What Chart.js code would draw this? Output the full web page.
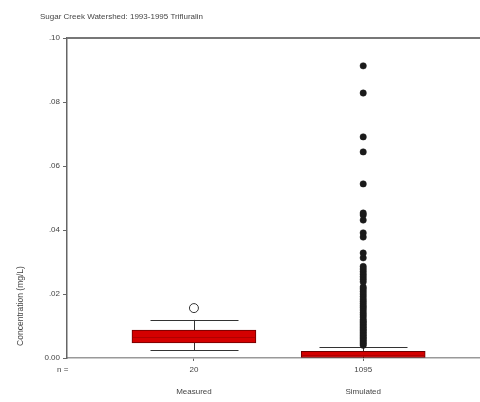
<!DOCTYPE html>
<html>
<head>
<meta charset="utf-8">
<script src="https://cdn.jsdelivr.net/npm/chart.js@4.4.1/dist/chart.umd.min.js"></script>
<style>
html,body{margin:0;padding:0;background:#fff;}
#wrap{width:480px;height:402px;position:relative;}
</style>
</head>
<body>
<div id="wrap"><canvas id="c" width="480" height="402"></canvas></div>
<script>
// ---- data ----
const chartTitle = "Sugar Creek Watershed: 1993-1995 Trifluralin";
const yAxisTitle = "Concentration (mg/L)";
const categories = ["Measured", "Simulated"];
const counts = ["20", "1095"];
const yTickValues = [0, 0.02, 0.04, 0.06, 0.08, 0.10];
const yTickLabels = ["0.00", ".02", ".04", ".06", ".08", ".10"];
const whiskerLow = [0.0025, 0.0000];
const boxQ1 = [0.0047, 0.0000];
const boxMedian = [0.0066, 0.0008];
const boxQ3 = [0.0087, 0.0021];
const whiskerHigh = [0.0119, 0.0035];
const measuredOutliers = [0.0156];
const simulatedOutliers = [
  0.0040, 0.0045, 0.0050, 0.0055, 0.0060, 0.0065, 0.0070, 0.0075, 0.0080, 0.0085,
  0.0090, 0.0095, 0.0100, 0.0105, 0.0110, 0.0115, 0.0120, 0.0128, 0.0135, 0.0142,
  0.0150, 0.0157, 0.0163, 0.0170, 0.0177, 0.0184, 0.0192, 0.0200, 0.0208, 0.0216,
  0.0222, 0.0238, 0.0246, 0.0254, 0.0262, 0.0270, 0.0278, 0.0286,
  0.0313, 0.0328, 0.0378, 0.0391, 0.0431, 0.0447, 0.0453, 0.0544, 0.0644, 0.0691,
  0.0828, 0.0913
];

// ---- build ----
const boxData = categories.map((c, i) => ({ x: i + 1, y: [boxQ1[i], boxQ3[i]] }));
const measPts = measuredOutliers.map(v => ({ x: 1, y: v }));
const simPts = simulatedOutliers.map(v => ({ x: 2, y: v }));

const TEXT = '#454545';
const FONT = '"Liberation Sans", Arial, sans-serif';
const CAP_HALF = 44;

const decor = {
  id: 'decor',
  beforeDatasetsDraw(chart) {
    const { ctx, chartArea: a, scales: { x, y } } = chart;
    ctx.save();
    ctx.strokeStyle = '#333';
    ctx.lineWidth = 1;
    categories.forEach((c, i) => {
      const px = Math.round(x.getPixelForValue(i + 1)) + 0.5;
      const lo = y.getPixelForValue(whiskerLow[i]);
      const hi = y.getPixelForValue(whiskerHigh[i]);
      ctx.beginPath();
      ctx.moveTo(px, lo); ctx.lineTo(px, hi);
      ctx.stroke();
      ctx.beginPath();
      ctx.moveTo(px - CAP_HALF, Math.round(hi) + 0.5); ctx.lineTo(px + CAP_HALF, Math.round(hi) + 0.5);
      if (whiskerLow[i] > 0) {
        ctx.moveTo(px - CAP_HALF, Math.round(lo) + 0.5); ctx.lineTo(px + CAP_HALF, Math.round(lo) + 0.5);
      }
      ctx.stroke();
    });
    ctx.restore();
  },
  afterDatasetsDraw(chart) {
    const { ctx, chartArea: a, scales: { x, y } } = chart;
    ctx.save();
    ctx.strokeStyle = '#b00000';
    ctx.lineWidth = 1;
    categories.forEach((c, i) => {
      const px = x.getPixelForValue(i + 1);
      const py = Math.round(y.getPixelForValue(boxMedian[i])) + 0.5;
      ctx.beginPath();
      ctx.moveTo(px - 61, py); ctx.lineTo(px + 61, py);
      ctx.stroke();
    });
    ctx.strokeStyle = '#777';
    ctx.lineWidth = 2;
    ctx.beginPath();
    ctx.moveTo(a.left, a.top); ctx.lineTo(a.right, a.top);
    ctx.stroke();
    ctx.restore();
  },
  afterDraw(chart) {
    const { ctx } = chart;
    ctx.save();
    ctx.fillStyle = TEXT;
    ctx.font = '8px ' + FONT;
    ctx.textBaseline = 'middle';
    ctx.textAlign = 'left';
    ctx.fillText(chartTitle, 40, 17);
    ctx.fillText('n =', 57, 370);
    ctx.translate(21, 306);
    ctx.rotate(-Math.PI / 2);
    ctx.textAlign = 'center';
    ctx.font = '8.5px ' + FONT;
    ctx.fillText(yAxisTitle, 0, 0);
    ctx.restore();
  }
};

new Chart(document.getElementById('c'), {
  type: 'bar',
  data: {
    datasets: [
      {
        type: 'bar',
        data: boxData,
        backgroundColor: '#d40000',
        borderColor: '#6a0000',
        borderWidth: 1,
        borderSkipped: false,
        barThickness: 124,
        order: 2
      },
      {
        type: 'scatter',
        data: simPts,
        pointRadius: 3.2,
        pointBackgroundColor: '#1a1a1a',
        pointBorderColor: '#1a1a1a',
        pointBorderWidth: 0.5,
        order: 1
      },
      {
        type: 'scatter',
        data: measPts,
        pointRadius: 4.5,
        pointBackgroundColor: '#fff',
        pointBorderColor: '#333',
        pointBorderWidth: 1,
        order: 1
      }
    ]
  },
  options: {
    responsive: false,
    animation: false,
    layout: { autoPadding: false, padding: { top: 38, left: 0, right: 0, bottom: 0 } },
    plugins: { legend: { display: false }, tooltip: { enabled: false }, title: { display: false } },
    scales: {
      x: {
        type: 'linear',
        min: 0.25,
        max: 2.69,
        offset: false,
        afterFit(s) { s.height = 44; },
        afterBuildTicks(s) { s.ticks = categories.map((c, i) => ({ value: i + 1 })); },
        ticks: {
          color: TEXT,
          font: { family: FONT, size: 8, lineHeight: 2.75 },
          padding: -2,
          maxRotation: 0,
          autoSkip: false,
          callback: (v, i) => [counts[i], categories[i]]
        },
        grid: { drawOnChartArea: false, offset: false, tickLength: 3, color: '#666' },
        border: { color: '#999', width: 1.5 }
      },
      y: {
        min: 0,
        max: 0.10,
        afterFit(s) { s.width = 67; },
        afterBuildTicks(s) { s.ticks = yTickValues.map(v => ({ value: v })); },
        ticks: {
          color: TEXT,
          font: { family: FONT, size: 8 },
          padding: 3,
          callback: (v, i) => yTickLabels[i]
        },
        grid: { drawOnChartArea: false, tickLength: 4, color: '#666' },
        border: { color: '#666', width: 1.5 }
      }
    }
  },
  plugins: [decor]
});
</script>
</body>
</html>
